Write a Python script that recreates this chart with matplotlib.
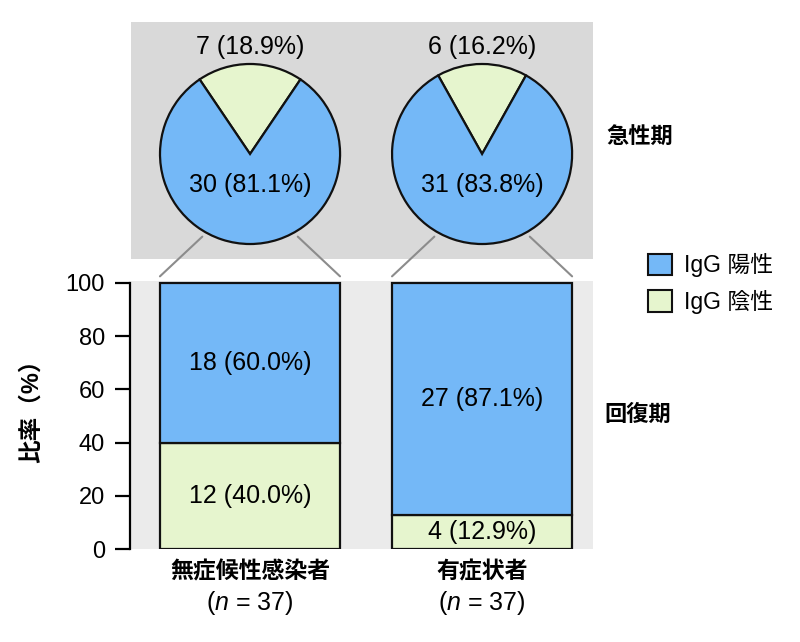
import matplotlib
matplotlib.use('Agg')
import matplotlib.pyplot as plt
from matplotlib.patches import Patch, ConnectionPatch
import numpy as np

plt.rcParams['font.family'] = ['Liberation Sans', 'Noto Sans CJK JP', 'DejaVu Sans']
plt.rcParams['mathtext.fontset'] = 'custom'
plt.rcParams['mathtext.rm'] = 'Liberation Sans'
plt.rcParams['mathtext.it'] = 'Liberation Sans:italic'

# データ
groups = ['無症候性感染者', '有症状者']
n_total = [37, 37]
acute_pos = [30, 31]      # 急性期 IgG陽性
acute_neg = [7, 6]        # 急性期 IgG陰性
recov_pos = [18, 27]      # 回復期 IgG陽性
recov_neg = [12, 4]       # 回復期 IgG陰性
legend_labels = ['IgG 陽性', 'IgG 陰性']
yticks = [0, 20, 40, 60, 80, 100]

blue = '#74b8f7'
green = '#e6f5ce'
edge = '#111111'

acute_pos_pct = [100 * p / (p + q) for p, q in zip(acute_pos, acute_neg)]
acute_neg_pct = [100 * q / (p + q) for p, q in zip(acute_pos, acute_neg)]
recov_pos_pct = [100 * p / (p + q) for p, q in zip(recov_pos, recov_neg)]
recov_neg_pct = [100 * q / (p + q) for p, q in zip(recov_pos, recov_neg)]

x = np.arange(len(groups))
bar_w = 0.776
pie_r = 0.388
lab_fs = 18

fig = plt.figure(figsize=(8, 6.42), dpi=100)
ax_top = fig.add_axes([131 / 800, (642 - 259) / 642, 462 / 800, 237 / 642])
ax_bot = fig.add_axes([130 / 800, (642 - 549) / 642, 463 / 800, 268 / 642])

# 急性期 (円グラフ)
for i in range(len(groups)):
    ax_top.pie([acute_neg[i], acute_pos[i]], colors=[green, blue],
               startangle=90 - acute_neg_pct[i] * 3.6 / 2, center=(x[i], 0),
               radius=pie_r, frame=True,
               wedgeprops=dict(edgecolor=edge, linewidth=1.6))
    ax_top.text(x[i], 0.462, f'{acute_neg[i]} ({acute_neg_pct[i]:.1f}%)',
                ha='center', va='center', fontsize=lab_fs)
    ax_top.text(x[i], -0.134, f'{acute_pos[i]} ({acute_pos_pct[i]:.1f}%)',
                ha='center', va='center', fontsize=lab_fs)
ax_top.set_aspect('auto')
ax_top.set_xlim(-0.513, 1.478)
ax_top.set_ylim(-0.4526, 0.569)
ax_top.set_facecolor('#d9d9d9')
for s in ax_top.spines.values():
    s.set_visible(False)
ax_top.set_xticks([])
ax_top.set_yticks([])

# 回復期 (積み上げ棒グラフ)
ax_bot.bar(x, recov_neg_pct, width=bar_w, color=green, edgecolor=edge, linewidth=1.6)
ax_bot.bar(x, recov_pos_pct, width=bar_w, bottom=recov_neg_pct, color=blue,
           edgecolor=edge, linewidth=1.6)
for i in range(len(groups)):
    ax_bot.text(x[i], recov_neg_pct[i] / 2, f'{recov_neg[i]} ({recov_neg_pct[i]:.1f}%)',
                ha='center', va='center', fontsize=lab_fs)
    ax_bot.text(x[i], recov_neg_pct[i] + recov_pos_pct[i] / 2,
                f'{recov_pos[i]} ({recov_pos_pct[i]:.1f}%)',
                ha='center', va='center', fontsize=lab_fs)
    ax_bot.text(x[i], -0.086, groups[i], transform=ax_bot.get_xaxis_transform(),
                ha='center', va='center', fontsize=16.5, fontweight='bold')
    ax_bot.text(x[i], -0.2, f'($\\mathit{{n}}$ = {n_total[i]})',
                transform=ax_bot.get_xaxis_transform(),
                ha='center', va='center', fontsize=lab_fs)

ax_bot.set_xlim(-0.517, 1.478)
ax_bot.set_ylim(0, 100.75)
ax_bot.set_facecolor('#ebebeb')
ax_bot.set_yticks(yticks)
ax_bot.set_xticks([])
for s in ['top', 'right', 'bottom']:
    ax_bot.spines[s].set_visible(False)
ax_bot.spines['left'].set_bounds(0, 100)
ax_bot.spines['left'].set_linewidth(1.6)
ax_bot.tick_params(axis='y', length=11, width=1.6, labelsize=17, pad=7)
ax_bot.set_ylabel('比率（%）', fontsize=17, fontweight='bold', va='center')
ax_bot.yaxis.set_label_coords(-0.212, 0.537)

# 円グラフと棒をつなぐ線
for i in range(len(groups)):
    for ang, side in [(240, -1), (300, 1)]:
        a = np.deg2rad(ang)
        cp = ConnectionPatch(xyA=(x[i] + 1.06 * pie_r * np.cos(a), 1.06 * pie_r * np.sin(a)),
                             coordsA=ax_top.transData,
                             xyB=(x[i] + side * bar_w / 2, 102.5), coordsB=ax_bot.transData,
                             color='#8c8c8c', linewidth=1.5)
        fig.add_artist(cp)

fig.text(606 / 800, 1 - 137 / 642, '急性期', ha='left', va='center',
         fontsize=16, fontweight='bold')
fig.text(604 / 800, 1 - 415 / 642, '回復期', ha='left', va='center',
         fontsize=16, fontweight='bold')

handles = [Patch(facecolor=blue, edgecolor=edge, linewidth=1.5, label=legend_labels[0]),
           Patch(facecolor=green, edgecolor=edge, linewidth=1.5, label=legend_labels[1])]
fig.legend(handles=handles, loc='upper left', bbox_to_anchor=(648 / 800, 1 - 253 / 642),
           frameon=False, fontsize=16.5, handlelength=1.05, handleheight=1.05,
           handletextpad=0.5, labelspacing=0.55, borderaxespad=0, borderpad=0)

fig.savefig('out.png', dpi=100, facecolor='white')
